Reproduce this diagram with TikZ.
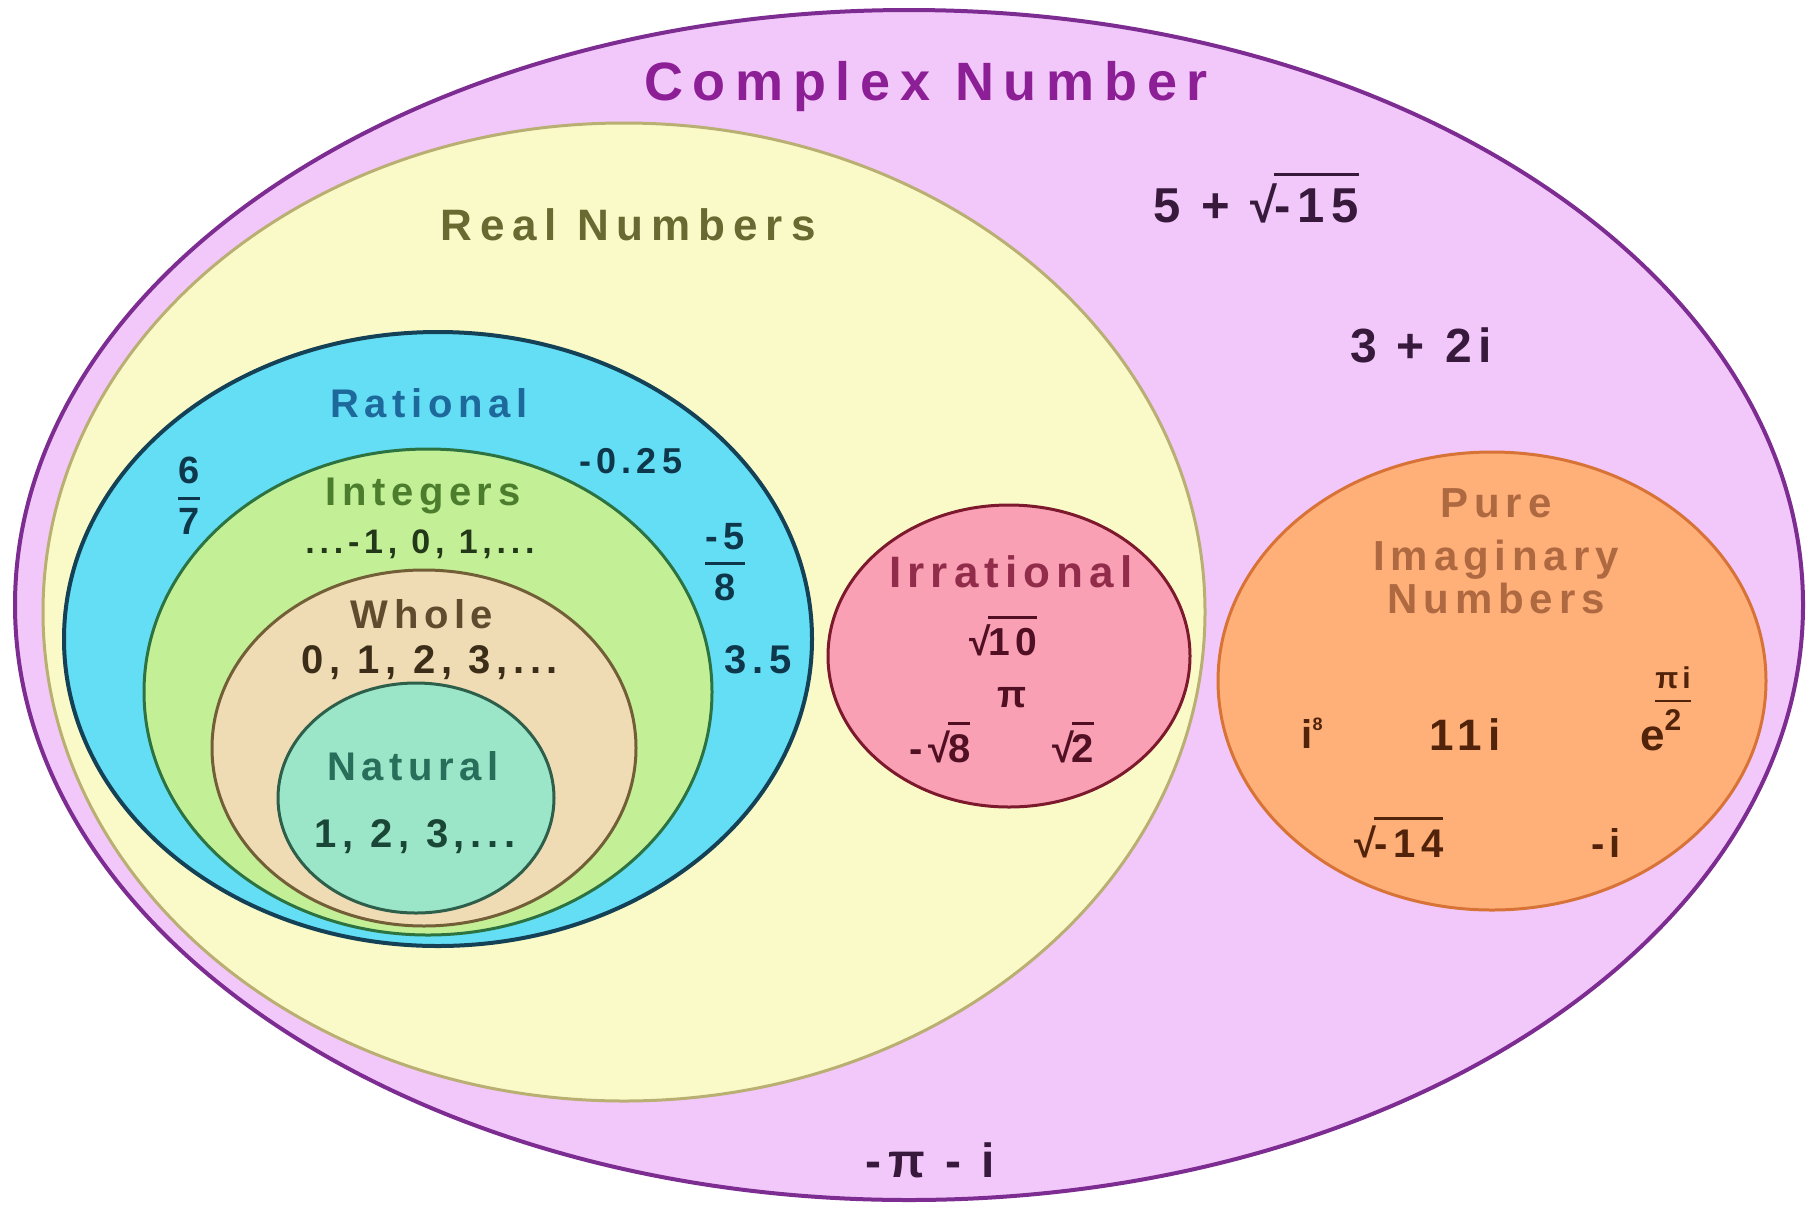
\documentclass[tikz,border=0pt]{standalone}
\usepackage{fontspec}
\setmainfont{Liberation Sans}
\newfontfamily\setfont[LetterSpace=14]{Liberation Sans}
\newfontfamily\titlefont[LetterSpace=18]{Liberation Sans}
\usetikzlibrary{positioning}

% radical with a bar over its argument
\newsavebox\rtbox
\newcommand\rootof[1]{√\kern-0.06em\sbox\rtbox{#1}\rlap{\rule[0.93em]{\wd\rtbox}{0.06em}}\usebox\rtbox}
% stacked fraction with a thick bar
\newcommand\stackfrac[3]{$\displaystyle{\hbox{#1}\above#3\hbox{#2}}$}

\definecolor{cplxfill}{RGB}{242,200,250}
\definecolor{cplxline}{RGB}{125,45,145}
\definecolor{cplxtext}{RGB}{140,30,150}
\definecolor{cplxnum}{RGB}{55,25,60}
\definecolor{realfill}{RGB}{250,250,200}
\definecolor{realline}{RGB}{185,175,115}
\definecolor{realtext}{RGB}{105,105,50}
\definecolor{ratfill}{RGB}{100,222,245}
\definecolor{ratline}{RGB}{20,65,85}
\definecolor{rattext}{RGB}{30,105,155}
\definecolor{ratnum}{RGB}{15,55,75}
\definecolor{intfill}{RGB}{195,240,150}
\definecolor{intline}{RGB}{45,115,65}
\definecolor{inttext}{RGB}{75,125,45}
\definecolor{intnum}{RGB}{35,55,25}
\definecolor{wholefill}{RGB}{240,220,180}
\definecolor{wholeline}{RGB}{115,95,55}
\definecolor{wholetext}{RGB}{95,75,45}
\definecolor{wholenum}{RGB}{60,45,25}
\definecolor{natfill}{RGB}{155,230,200}
\definecolor{natline}{RGB}{45,95,75}
\definecolor{nattext}{RGB}{40,110,90}
\definecolor{natnum}{RGB}{25,70,55}
\definecolor{irrfill}{RGB}{250,160,180}
\definecolor{irrline}{RGB}{125,25,45}
\definecolor{irrtext}{RGB}{145,45,75}
\definecolor{irrnum}{RGB}{80,15,35}
\definecolor{purefill}{RGB}{255,175,120}
\definecolor{pureline}{RGB}{215,115,55}
\definecolor{puretext}{RGB}{175,105,65}
\definecolor{purenum}{RGB}{80,35,10}

\begin{document}
\begin{tikzpicture}[
    x=0.5pt, y=-0.5pt, % one unit per pixel of the layout
    region/.style 2 args={draw=#1, fill=#2, line width=1.5pt}, % Style for the number sets
    settitle/.style={font=\titlefont\bfseries\fontsize{#1}{#1}\selectfont, anchor=base, inner sep=0pt}, % Style for big titles
    setname/.style={font=\setfont\bfseries\fontsize{20}{24}\selectfont, anchor=base, inner sep=0pt}, % Style for set names
    numval/.style={font=\setfont\bfseries\fontsize{#1}{#1}\selectfont, anchor=base, inner sep=0pt} % Style for sample numbers
]

    % --- Canvas ---
    \fill[white] (0,0) rectangle (1814,1205);
    \useasboundingbox (0,0) rectangle (1814,1205);

    % --- Set centres ---
    \coordinate (C) at (909,605);
    \coordinate (R) at (624,612);
    \coordinate (Q) at (438,639);
    \coordinate (Z) at (428,692);
    \coordinate (W) at (424,748);
    \coordinate (N) at (416,798);
    \coordinate (I) at (1009,656);
    \coordinate (P) at (1492,681);

    % --- Sets, outermost first ---
    \draw[region={cplxline}{cplxfill}, line width=2pt] (C) ellipse [x radius=894, y radius=595];
    \draw[region={realline}{realfill}] (R) ellipse [x radius=581, y radius=489];
    \draw[region={ratline}{ratfill}, line width=2pt] (Q) ellipse [x radius=374, y radius=307];
    \draw[region={intline}{intfill}] (Z) ellipse [x radius=284, y radius=243];
    \draw[region={wholeline}{wholefill}] (W) ellipse [x radius=212, y radius=178];
    \draw[region={natline}{natfill}] (N) ellipse [x radius=138, y radius=115];
    \draw[region={irrline}{irrfill}] (I) ellipse [x radius=181, y radius=151];
    \draw[region={pureline}{purefill}] (P) ellipse [x radius=274, y radius=229];

    % --- Complex ---
    \node[settitle=27, text=cplxtext] (cplxname) at (926,100) {Complex Number};
    \node[numval=24.5, text=cplxnum] (cplxa) at (1256,222) {5 + \rootof{-15}};
    \node[numval=24, text=cplxnum] (cplxb) at (1421,362) {3 + 2i};
    \node[numval=24, text=cplxnum] (cplxc) at (930,1177) {-π - i};

    % --- Real ---
    \node[settitle=22, text=realtext] (realname) at (628,240) {Real Numbers};

    % --- Rational ---
    \node[setname, text=rattext] (ratname) at (429,417) {Rational};
    \node[numval=18, text=ratnum] (rata) at (631,473) {-0.25};
    \node[numval=19, text=ratnum, anchor=center] (ratb) at (189,496) {\stackfrac{6}{7}{1.5pt}};
    \node[numval=19, text=ratnum, anchor=center] (ratc) at (725,562) {\stackfrac{-5}{8}{1.5pt}};
    \node[numval=20, text=ratnum] (ratd) at (758,673) {3.5};

    % --- Integers ---
    \node[setname, text=inttext] (intname) at (423,505) {Integers};
    \node[numval=17, text=intnum] (inta) at (420,553) {...-1, 0, 1,...};

    % --- Whole ---
    \node[setname, text=wholetext] (wholename) at (422,628) {Whole};
    \node[numval=20, text=wholenum] (wholea) at (430,673) {0, 1, 2, 3,...};

    % --- Natural ---
    \node[setname, text=nattext] (natname) at (413,780) {Natural};
    \node[numval=20, text=natnum] (nata) at (415,847) {1, 2, 3,...};

    % --- Irrational ---
    \node[setname, text=irrtext, font=\setfont\bfseries\fontsize{22}{24}\selectfont] (irrname) at (1011,587) {Irrational};
    \node[numval=19.5, text=irrnum] (irra) at (1003,655) {\rootof{10}};
    \node[numval=19, text=irrnum] (irrb) at (1012,707) {π};
    \node[numval=20, text=irrnum] (irrc) at (940,762) {-\rootof{8}};
    \node[numval=20, text=irrnum] (irrd) at (1073,762) {\rootof{2}};

    % --- Pure imaginary ---
    \node[setname, text=puretext, font=\setfont\bfseries\fontsize{21}{24}\selectfont] (purename) at (1496,517) {Pure};
    \node[setname, text=puretext, font=\setfont\bfseries\fontsize{21}{24}\selectfont] (purenameb) at (1496,570) {Imaginary};
    \node[setname, text=puretext, font=\setfont\bfseries\fontsize{21}{24}\selectfont] (purenamec) at (1496,613) {Numbers};
    \node[numval=20, text=purenum] (purea) at (1312,748) {i\raisebox{9pt}{\fontsize{9}{9}\selectfont 8}};
    \node[numval=22, text=purenum] (pureb) at (1465,750) {11i};
    \node[numval=22, text=purenum, anchor=base west] (purec) at (1640,750) {e\kern-6pt\raisebox{21pt}{\fontsize{15}{15}\selectfont\stackfrac{πi}{2}{1.2pt}}};
    \node[numval=20, text=purenum] (pured) at (1399,857) {\rootof{-14}};
    \node[numval=20, text=purenum] (puree) at (1606,857) {-i};

\end{tikzpicture}
\end{document}
